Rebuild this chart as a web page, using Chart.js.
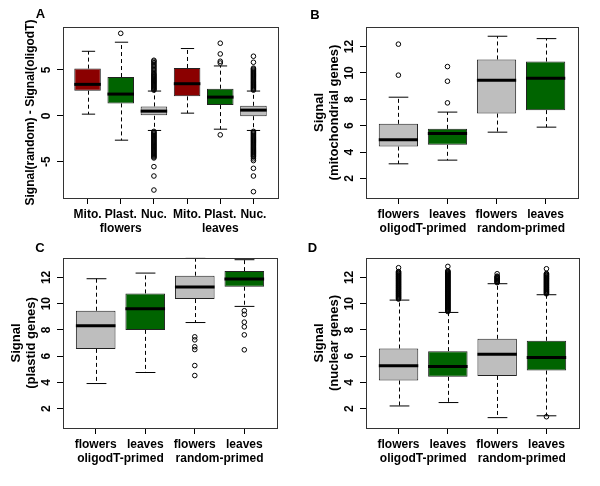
<!DOCTYPE html>
<html>
<head>
<meta charset="utf-8">
<script src="https://cdn.jsdelivr.net/npm/chart.js@4.4.1/dist/chart.umd.min.js"></script>
<style>
  body { margin: 0; background: #fff; }
  #wrap { position: relative; width: 600px; height: 486px; }
  canvas { position: absolute; }
</style>
</head>
<body>
<div id="wrap">
  <canvas id="cA" width="300" height="243" style="left:0;top:0"></canvas>
  <canvas id="cB" width="300" height="243" style="left:300px;top:0"></canvas>
  <canvas id="cC" width="300" height="243" style="left:0;top:243px"></canvas>
  <canvas id="cD" width="300" height="243" style="left:300px;top:243px"></canvas>
</div>
<script>
// COLOURS
const RED = "#8B0000", GREEN = "#006400", GREY = "#BEBEBE";
const FONT = '"Liberation Sans", Arial, sans-serif';

// PANEL A - difference random vs oligodT
const aLabels = ["Mito.", "Plast.", "Nuc.", "Mito.", "Plast.", "Nuc."];
const aGroups = ["flowers", "leaves"];
const aGroupPos = [2, 5];
const aTicks = [-5, 0, 5];
const aLow  = [0.18, -2.66, -1.6, 0.29, -1.46, -1.6];
const aQ1   = [2.74, 1.35, 0.0, 2.12, 1.17, -0.04];
const aMed  = [3.43, 2.37, 0.51, 3.5, 2.04, 0.62];
const aQ3   = [5.15, 4.23, 1.02, 5.22, 2.96, 1.09];
const aHigh = [7.04, 8.03, 2.7, 7.34, 5.44, 2.7];
const aOut = [
  [],
  [9.0],
  [2.8, 2.9, 3.0, 3.1, 3.2, 3.3, 3.4, 3.5, 3.6, 3.7, 3.8, 3.9, 4.0, 4.1, 4.2, 4.3, 4.4, 4.5, 4.6,
   4.75, 4.9, 5.05, 5.2, 5.35, 5.5, 5.65, 5.8, 5.95, 6.06,
   -1.7, -1.8, -1.9, -2.0, -2.1, -2.2, -2.3, -2.4, -2.5, -2.6, -2.7, -2.8, -2.9, -3.0, -3.1,
   -3.2, -3.3, -3.4, -3.5, -3.6, -3.7, -3.8, -3.9, -4.0, -4.1, -4.2, -4.3, -4.4, -4.5, -4.6,
   -5.55, -6.57, -8.1],
  [],
  [5.76, 5.95, 6.75, 7.92, -2.08],
  [2.8, 2.9, 3.0, 3.1, 3.2, 3.3, 3.4, 3.5, 3.6, 3.7, 3.8, 3.9, 4.0, 4.1, 4.2, 4.3, 4.4, 4.5, 4.6,
   4.7, 4.8, 4.9, 5.0, 5.1, 5.2, 5.84, 6.5,
   -1.7, -1.8, -1.9, -2.0, -2.1, -2.2, -2.3, -2.4, -2.5, -2.6, -2.7, -2.8, -2.9, -3.0, -3.1,
   -3.2, -3.3, -3.4, -3.5, -3.6, -3.7, -3.8, -3.9, -4.0, -4.1, -4.2, -4.3, -4.4, -4.5,
   -4.7, -4.89, -5.73, -6.57, -8.28]
];

// PANELS B-D share the same categories
const sLabels = ["flowers", "leaves", "flowers", "leaves"];
const sGroups = ["oligodT-primed", "random-primed"];
const sGroupPos = [1.5, 3.5];
const sTicks = [2, 4, 6, 8, 10, 12];

// PANEL B - mitochondrial genes
const bLow  = [3.11, 3.39, 5.51, 5.89];
const bQ1   = [4.42, 4.55, 6.92, 7.18];
const bMed  = [4.93, 5.41, 9.45, 9.6];
const bQ3   = [6.14, 5.76, 11.02, 10.86];
const bHigh = [8.16, 7.03, 12.78, 12.6];
const bOut  = [[9.83, 12.18], [7.73, 9.37, 10.48], [], []];

// PANEL C - plastid genes
const cLow  = [3.91, 4.75, 8.56, 9.79];
const cQ1   = [6.55, 8.0, 10.35, 11.29];
const cMed  = [8.31, 9.61, 11.26, 11.87];
const cQ3   = [9.46, 10.78, 12.13, 12.48];
const cHigh = [11.9, 12.33, 13.45, 13.35];
const cOut  = [[], [], [7.47, 7.24, 6.71, 6.5, 5.28, 4.52], [9.46, 9.18, 8.59, 8.23, 7.62, 6.48]];

// PANEL D - nuclear genes
const dLow  = [2.2, 2.46, 1.31, 1.45];
const dQ1   = [4.14, 4.42, 4.49, 4.9];
const dMed  = [5.26, 5.21, 6.15, 5.89];
const dQ3   = [6.58, 6.38, 7.32, 7.17];
const dHigh = [10.27, 9.33, 11.52, 10.68];
const dOut = [
  [10.35, 10.4, 10.45, 10.5, 10.55, 10.6, 10.65, 10.7, 10.75, 10.8, 10.85, 10.9, 10.95, 11.0,
   11.05, 11.1, 11.15, 11.2, 11.25, 11.3, 11.35, 11.4, 11.45, 11.5, 11.55, 11.6, 11.65, 11.7,
   11.75, 11.8, 11.85, 11.9, 11.95, 12.0, 12.05, 12.1, 12.15, 12.2, 12.25, 12.3, 12.35, 12.4,
   12.45, 12.74],
  [9.4, 9.45, 9.5, 9.55, 9.6, 9.65, 9.7, 9.75, 9.8, 9.85, 9.9, 9.95, 10.0, 10.05, 10.1, 10.15,
   10.2, 10.25, 10.3, 10.35, 10.4, 10.45, 10.5, 10.55, 10.6, 10.65, 10.7, 10.75, 10.8, 10.85,
   10.9, 10.95, 11.0, 11.05, 11.1, 11.15, 11.2, 11.25, 11.3, 11.35, 11.4, 11.45, 11.5, 11.55,
   11.6, 11.65, 11.7, 11.75, 11.8, 11.85, 11.9, 11.95, 12.0, 12.05, 12.1, 12.15, 12.2, 12.25,
   12.3, 12.35, 12.4, 12.45, 12.5, 12.84],
  [11.6, 11.65, 11.7, 11.75, 11.8, 11.85, 11.9, 11.95, 12.0, 12.05, 12.1, 12.28],
  [10.75, 10.8, 10.85, 10.9, 10.95, 11.0, 11.05, 11.1, 11.15, 11.2, 11.25, 11.3, 11.35, 11.4,
   11.45, 11.5, 11.55, 11.6, 11.65, 11.7, 11.75, 11.8, 11.85, 11.9, 11.95, 12.0, 12.05, 12.1,
   12.15, 12.2, 12.25, 12.3, 12.66, 1.38]
];

// BOX PLOT PANEL
function makePanel(id, p) {
  const pos = p.labels.map((l, i) => i + 1);
  const n = pos.length;
  const ext = n * 0.04;

  const points = [];
  p.out.forEach((list, i) => list.forEach(v => points.push({ x: pos[i], y: v })));

  const plugin = {
    id: "box_" + id,
    beforeDatasetsDraw(chart) {
      const ctx = chart.ctx, y = chart.scales.y;
      const bars = chart.getDatasetMeta(1).data;
      ctx.save();
      ctx.strokeStyle = "#000";
      ctx.lineWidth = 1;
      bars.forEach((bar, i) => {
        const x = Math.round(bar.x) + 0.5;
        const half = bar.width / 4;
        const yl = y.getPixelForValue(p.low[i]), yh = y.getPixelForValue(p.high[i]);
        const y1 = y.getPixelForValue(p.q1[i]), y3 = y.getPixelForValue(p.q3[i]);
        ctx.setLineDash([4, 3]);
        ctx.beginPath();
        ctx.moveTo(x, y3); ctx.lineTo(x, yh);
        ctx.moveTo(x, y1); ctx.lineTo(x, yl);
        ctx.stroke();
        ctx.setLineDash([]);
        ctx.beginPath();
        ctx.moveTo(x - half, yh); ctx.lineTo(x + half, yh);
        ctx.moveTo(x - half, yl); ctx.lineTo(x + half, yl);
        ctx.stroke();
      });
      ctx.restore();
    },
    afterDatasetsDraw(chart) {
      const ctx = chart.ctx, y = chart.scales.y;
      const bars = chart.getDatasetMeta(1).data;
      ctx.save();
      ctx.strokeStyle = "#000";
      ctx.lineWidth = 3;
      bars.forEach((bar, i) => {
        const ym = y.getPixelForValue(p.med[i]);
        ctx.beginPath();
        ctx.moveTo(bar.x - bar.width / 2, ym);
        ctx.lineTo(bar.x + bar.width / 2, ym);
        ctx.stroke();
      });
      ctx.restore();
    },
    afterDraw(chart) {
      const ctx = chart.ctx, a = chart.chartArea;
      const xs = chart.scales.x, ys = chart.scales.y;
      ctx.save();
      // frame
      ctx.strokeStyle = "#333";
      ctx.lineWidth = 1;
      ctx.strokeRect(Math.round(a.left) + 0.5, Math.round(a.top) + 0.5,
        Math.round(a.right - a.left), Math.round(a.bottom - a.top));
      ctx.fillStyle = "#000";
      ctx.textAlign = "center";
      ctx.textBaseline = "middle";
      // x labels
      ctx.font = "bold 12px " + FONT;
      p.labels.forEach((l, i) => ctx.fillText(l, xs.getPixelForValue(pos[i]), a.bottom + 17));
      p.groups.forEach((g, i) => ctx.fillText(g, xs.getPixelForValue(p.groupPos[i]), a.bottom + 31));
      // y tick labels
      p.ticks.forEach(v => {
        ctx.save();
        ctx.translate(a.left - 16, ys.getPixelForValue(v));
        ctx.rotate(-Math.PI / 2);
        ctx.fillText(String(v), 0, 0);
        ctx.restore();
      });
      // y title
      ctx.font = "bold " + p.titleSize + "px " + FONT;
      const cy = (a.top + a.bottom) / 2;
      p.title.forEach((t, i) => {
        ctx.save();
        ctx.translate(a.left - p.titleOff[i], cy);
        ctx.rotate(-Math.PI / 2);
        ctx.fillText(t, 0, 0);
        ctx.restore();
      });
      // panel letter
      ctx.font = "bold 13px " + FONT;
      ctx.fillText(p.letter, p.letterX, p.letterY);
      ctx.restore();
    }
  };

  const tickGrid = { display: true, drawOnChartArea: false, drawTicks: true, tickLength: 6, color: "#000", offset: false };

  return new Chart(document.getElementById(id), {
    type: "bar",
    data: {
      datasets: [
        {
          type: "scatter",
          data: points,
          pointRadius: 2.3,
          pointBorderWidth: 1,
          pointBorderColor: "#000",
          pointBackgroundColor: "rgba(0,0,0,0)"
        },
        {
          type: "bar",
          data: pos.map((x, i) => ({ x: x, y: [p.q1[i], p.q3[i]] })),
          backgroundColor: p.colors,
          borderColor: "#222",
          borderWidth: 1,
          borderSkipped: false,
          barPercentage: 0.8,
          categoryPercentage: 1
        }
      ]
    },
    options: {
      responsive: false,
      animation: false,
      events: [],
      layout: { padding: { left: 0, bottom: 0, top: p.area.top, right: 300 - p.area.right } },
      plugins: { legend: { display: false }, tooltip: { enabled: false } },
      scales: {
        x: {
          type: "linear",
          min: 0.5 - ext, max: n + 0.5 + ext,
          offset: false,
          grid: tickGrid,
          border: { display: false },
          ticks: { display: false },
          afterBuildTicks: s => { s.ticks = pos.map(v => ({ value: v })); },
          afterFit: s => { s.height = 243 - p.area.bottom; }
        },
        y: {
          type: "linear",
          min: p.yMin, max: p.yMax,
          beginAtZero: false,
          grid: tickGrid,
          border: { display: false },
          ticks: { display: false },
          afterBuildTicks: s => { s.ticks = p.ticks.map(v => ({ value: v })); },
          afterFit: s => { s.width = p.area.left; }
        }
      }
    },
    plugins: [plugin]
  });
}

makePanel("cA", {
  labels: aLabels, groups: aGroups, groupPos: aGroupPos, ticks: aTicks,
  low: aLow, q1: aQ1, med: aMed, q3: aQ3, high: aHigh, out: aOut,
  colors: [RED, GREEN, GREY, RED, GREEN, GREY],
  yMin: -8.97, yMax: 9.69,
  title: ["Signal(random) - Signal(oligodT)"], titleSize: 12, titleOff: [32],
  letter: "A", letterX: 40.5, letterY: 14.5,
  area: { left: 63, right: 278, top: 27, bottom: 198 }
});

makePanel("cB", {
  labels: sLabels, groups: sGroups, groupPos: sGroupPos, ticks: sTicks,
  low: bLow, q1: bQ1, med: bMed, q3: bQ3, high: bHigh, out: bOut,
  colors: [GREY, GREEN, GREY, GREEN],
  yMin: 0.52, yMax: 13.48,
  title: ["Signal", "(mitochondrial genes)"], titleSize: 13, titleOff: [47, 32],
  letter: "B", letterX: 15, letterY: 15,
  area: { left: 66, right: 278, top: 27, bottom: 198 }
});

makePanel("cC", {
  labels: sLabels, groups: sGroups, groupPos: sGroupPos, ticks: sTicks,
  low: cLow, q1: cQ1, med: cMed, q3: cQ3, high: cHigh, out: cOut,
  colors: [GREY, GREEN, GREY, GREEN],
  yMin: 0.52, yMax: 13.48,
  title: ["Signal", "(plastid genes)"], titleSize: 13, titleOff: [47, 32],
  letter: "C", letterX: 40, letterY: 5.5,
  area: { left: 63, right: 277, top: 15, bottom: 185 }
});

makePanel("cD", {
  labels: sLabels, groups: sGroups, groupPos: sGroupPos, ticks: sTicks,
  low: dLow, q1: dQ1, med: dMed, q3: dQ3, high: dHigh, out: dOut,
  colors: [GREY, GREEN, GREY, GREEN],
  yMin: 0.52, yMax: 13.48,
  title: ["Signal", "(nuclear genes)"], titleSize: 13, titleOff: [47, 32],
  letter: "D", letterX: 12.5, letterY: 5.7,
  area: { left: 66, right: 279, top: 15, bottom: 185 }
});
</script>
</body>
</html>
